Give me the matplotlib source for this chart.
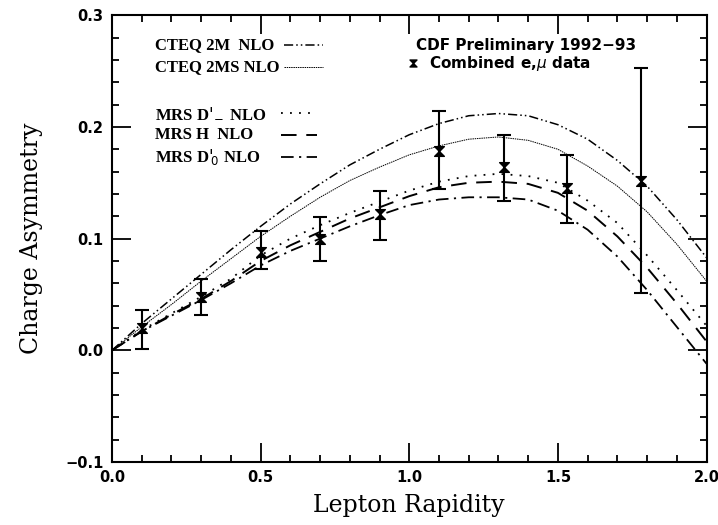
import numpy as np
import matplotlib
matplotlib.use("Agg")
import matplotlib.pyplot as plt
from matplotlib.path import Path
from matplotlib.ticker import MultipleLocator

# ---------------- data ----------------
rapidity = [0.0, 0.1, 0.2, 0.3, 0.4, 0.5, 0.6, 0.7, 0.8, 0.9, 1.0,
            1.1, 1.2, 1.3, 1.4, 1.5, 1.6, 1.7, 1.8, 1.9, 2.0]
cteq_2m = [0, 0.024, 0.046, 0.068, 0.090, 0.111, 0.131, 0.149, 0.166, 0.180, 0.193,
           0.203, 0.210, 0.212, 0.210, 0.202, 0.189, 0.170, 0.147, 0.117, 0.083]
cteq_2ms = [0, 0.021, 0.041, 0.062, 0.082, 0.102, 0.120, 0.137, 0.152, 0.164, 0.175,
            0.183, 0.189, 0.191, 0.188, 0.180, 0.165, 0.147, 0.124, 0.095, 0.062]
mrs_dm = [0, 0.018, 0.033, 0.048, 0.064, 0.085, 0.100, 0.112, 0.123, 0.133, 0.143,
          0.151, 0.156, 0.158, 0.156, 0.150, 0.134, 0.114, 0.085, 0.054, 0.022]
mrs_h = [0, 0.017, 0.032, 0.046, 0.062, 0.080, 0.094, 0.106, 0.118, 0.128, 0.138,
         0.146, 0.150, 0.151, 0.149, 0.141, 0.125, 0.102, 0.074, 0.042, 0.008]
mrs_d0 = [0, 0.017, 0.031, 0.045, 0.060, 0.076, 0.089, 0.100, 0.111, 0.121, 0.130,
          0.135, 0.137, 0.137, 0.135, 0.125, 0.108, 0.084, 0.054, 0.021, -0.012]

data_x = [0.1, 0.3, 0.5, 0.7, 0.9, 1.1, 1.32, 1.53, 1.78]
data_y = [0.020, 0.048, 0.088, 0.100, 0.122, 0.178, 0.164, 0.145, 0.152]
data_hi = [0.036, 0.064, 0.107, 0.119, 0.143, 0.214, 0.193, 0.175, 0.253]
data_lo = [0.001, 0.032, 0.073, 0.080, 0.099, 0.144, 0.134, 0.114, 0.051]

x_ticks = [0.0, 0.5, 1.0, 1.5, 2.0]
y_ticks = [-0.1, 0.0, 0.1, 0.2, 0.3]

# ---------------- figure ----------------
fig = plt.figure(figsize=(7.18, 5.25), dpi=100)
ax = fig.add_axes([0.156, 0.12, 0.828, 0.851])

styles = [
    (cteq_2m, (0, (6, 2, 1, 2, 1, 2)), 1.1, "CTEQ 2M  NLO"),
    (cteq_2ms, (0, (1.5, 0.8)), 0.7, "CTEQ 2MS NLO"),
    (mrs_dm, (0, (1, 4)), 1.3, r"MRS D$'_{\!-}$ NLO"),
    (mrs_h, (0, (8, 5)), 1.4, "MRS H  NLO"),
    (mrs_d0, (0, (7, 3, 1.2, 3)), 1.3, r"MRS D$'_{\!0}$ NLO"),
]
for vals, ls, lw, _ in styles:
    ax.plot(rapidity, vals, color="black", linestyle=ls, linewidth=lw)

# error bars
yerr = [np.array(data_y) - np.array(data_lo), np.array(data_hi) - np.array(data_y)]
ax.errorbar(data_x, data_y, yerr=yerr, fmt="none", ecolor="black",
            elinewidth=1.5, capsize=5, capthick=1.5)

hourglass = Path([(-1, 1), (1, 1), (0, 0), (1, -1), (-1, -1), (0, 0), (-1, 1)],
                 [Path.MOVETO, Path.LINETO, Path.LINETO, Path.LINETO,
                  Path.LINETO, Path.LINETO, Path.CLOSEPOLY])
ax.plot(data_x, data_y, linestyle="none", marker=hourglass, markersize=7,
        color="black")

ax.set_xlim(0, 2.0)
ax.set_ylim(-0.1, 0.3)
ax.set_xticks(x_ticks)
ax.set_yticks(y_ticks)
ax.set_xticklabels([f"{v:.1f}" for v in x_ticks])
ax.set_yticklabels([f"{v:.1f}".replace("-", "\u2212") for v in y_ticks])
ax.xaxis.set_minor_locator(MultipleLocator(0.1))
ax.yaxis.set_minor_locator(MultipleLocator(0.02))
ax.tick_params(which="both", direction="in", top=True, right=True,
               width=1.3, labelsize=10.5)
ax.tick_params(which="major", length=14, pad=6)
ax.tick_params(which="minor", length=5)
for lab in ax.get_xticklabels() + ax.get_yticklabels():
    lab.set_fontweight("bold")
for s in ax.spines.values():
    s.set_linewidth(1.5)

ax.set_xlabel("Lepton Rapidity", fontsize=17, family="DejaVu Serif", labelpad=6)
ax.set_ylabel("Charge Asymmetry", fontsize=17, family="DejaVu Serif", labelpad=16)

# legend (manual)
lx = 0.072
rows = [0.933, 0.884, 0.781, 0.732, 0.682]
seg = [(0.29, 0.355), (0.29, 0.355), (0.285, 0.345), (0.285, 0.345), (0.285, 0.345)]
for (vals, ls, lw, label), ty, (s0, s1) in zip(styles, rows, seg):
    ax.text(lx, ty, label, transform=ax.transAxes, fontsize=12,
            family="Liberation Serif", fontweight="bold", va="center", ha="left")
    ax.plot([s0, s1], [ty, ty], transform=ax.transAxes, color="black",
            linestyle=ls, linewidth=lw)

ax.text(0.512, 0.933, "CDF Preliminary 1992\u221293", transform=ax.transAxes,
        fontsize=11, fontweight="bold", va="center", ha="left")
ax.plot([0.507], [0.893], transform=ax.transAxes, marker=hourglass,
        markersize=5, color="black", linestyle="none")
ax.text(0.534, 0.893, r"Combined e,$\mu$ data", transform=ax.transAxes,
        fontsize=11, fontweight="bold", va="center", ha="left")

fig.savefig("out.png", dpi=100)
